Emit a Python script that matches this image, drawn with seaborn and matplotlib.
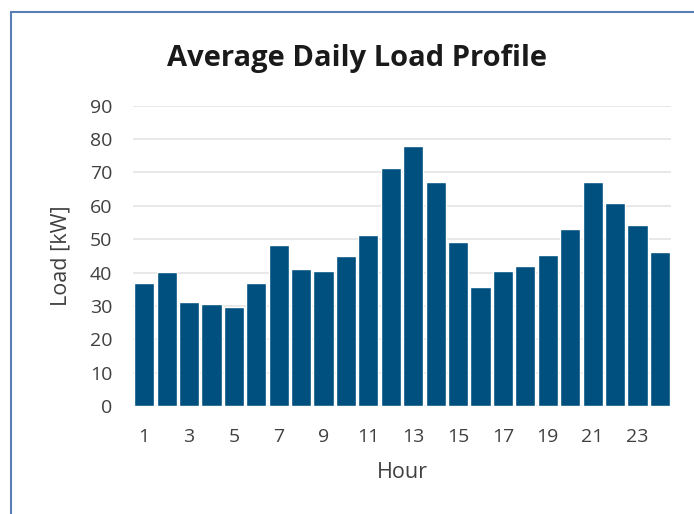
"""Average daily load profile bar chart."""

import matplotlib
matplotlib.use("Agg")
import matplotlib.pyplot as plt
from matplotlib.lines import Line2D
import pandas as pd
import seaborn as sns

hours = list(range(1, 25))
load_kw = [37, 40.2, 31.2, 30.5, 29.7, 36.9, 48.2, 41.2, 40.5, 44.9,
           51.4, 71.2, 77.9, 67.2, 49.2, 35.7, 40.5, 42.0, 45.3, 53.2,
           67.2, 60.7, 54.3, 46.3]
yticks = list(range(0, 100, 10))
xtick_labels = [str(h) for h in hours[::2]]

df = pd.DataFrame({"Hour": hours, "Load": load_kw})

sns.set_style("white")
plt.rcParams["font.family"] = ["Open Sans", "DejaVu Sans"]

fig = plt.figure(figsize=(6.94, 5.14), dpi=100)
ax = fig.add_axes([0.1916, 0.21, 0.967 - 0.1916, 0.7944 - 0.21])

sns.barplot(data=df, x="Hour", y="Load", color="#00507f", saturation=1,
            width=0.9, ax=ax, zorder=3)

ax.set_ylim(0, 90)
ax.set_xlim(-0.5, len(hours) - 0.5)
ax.set_yticks(yticks)
ax.set_xticks(range(0, len(hours), 2))
ax.set_xticklabels(xtick_labels)
ax.tick_params(axis="both", length=0, labelsize=14, colors="#404040")
ax.tick_params(axis="x", pad=16)
ax.tick_params(axis="y", pad=15)
ax.yaxis.grid(True, color="#e4e4e4", lw=1.2, zorder=0)
ax.set_axisbelow(True)
for s in ax.spines.values():
    s.set_visible(False)

ax.set_xlabel("Hour", fontsize=15.5, color="#404040")
ax.set_ylabel("Load [kW]", fontsize=15.5, color="#404040")
ax.xaxis.label.set_va("center")
ax.yaxis.label.set_va("center")
ax.xaxis.set_label_coords(0.5, -0.22)
ax.yaxis.set_label_coords(-0.134, 0.5)
fig.text(0.515, 0.886, "Average Daily Load Profile", ha="center", va="center",
         fontsize=21, fontweight="bold", color="#1a1a1a")

# outer frame (partial border as in the screenshot)
fig.add_artist(Line2D([11 / 694, 1], [1 - 12 / 514, 1 - 12 / 514],
                      transform=fig.transFigure, color="#5a7fb5", lw=1.5))
fig.add_artist(Line2D([11 / 694, 11 / 694], [0, 1 - 12 / 514],
                      transform=fig.transFigure, color="#5a7fb5", lw=1.5))

fig.savefig("out.png", dpi=100)
